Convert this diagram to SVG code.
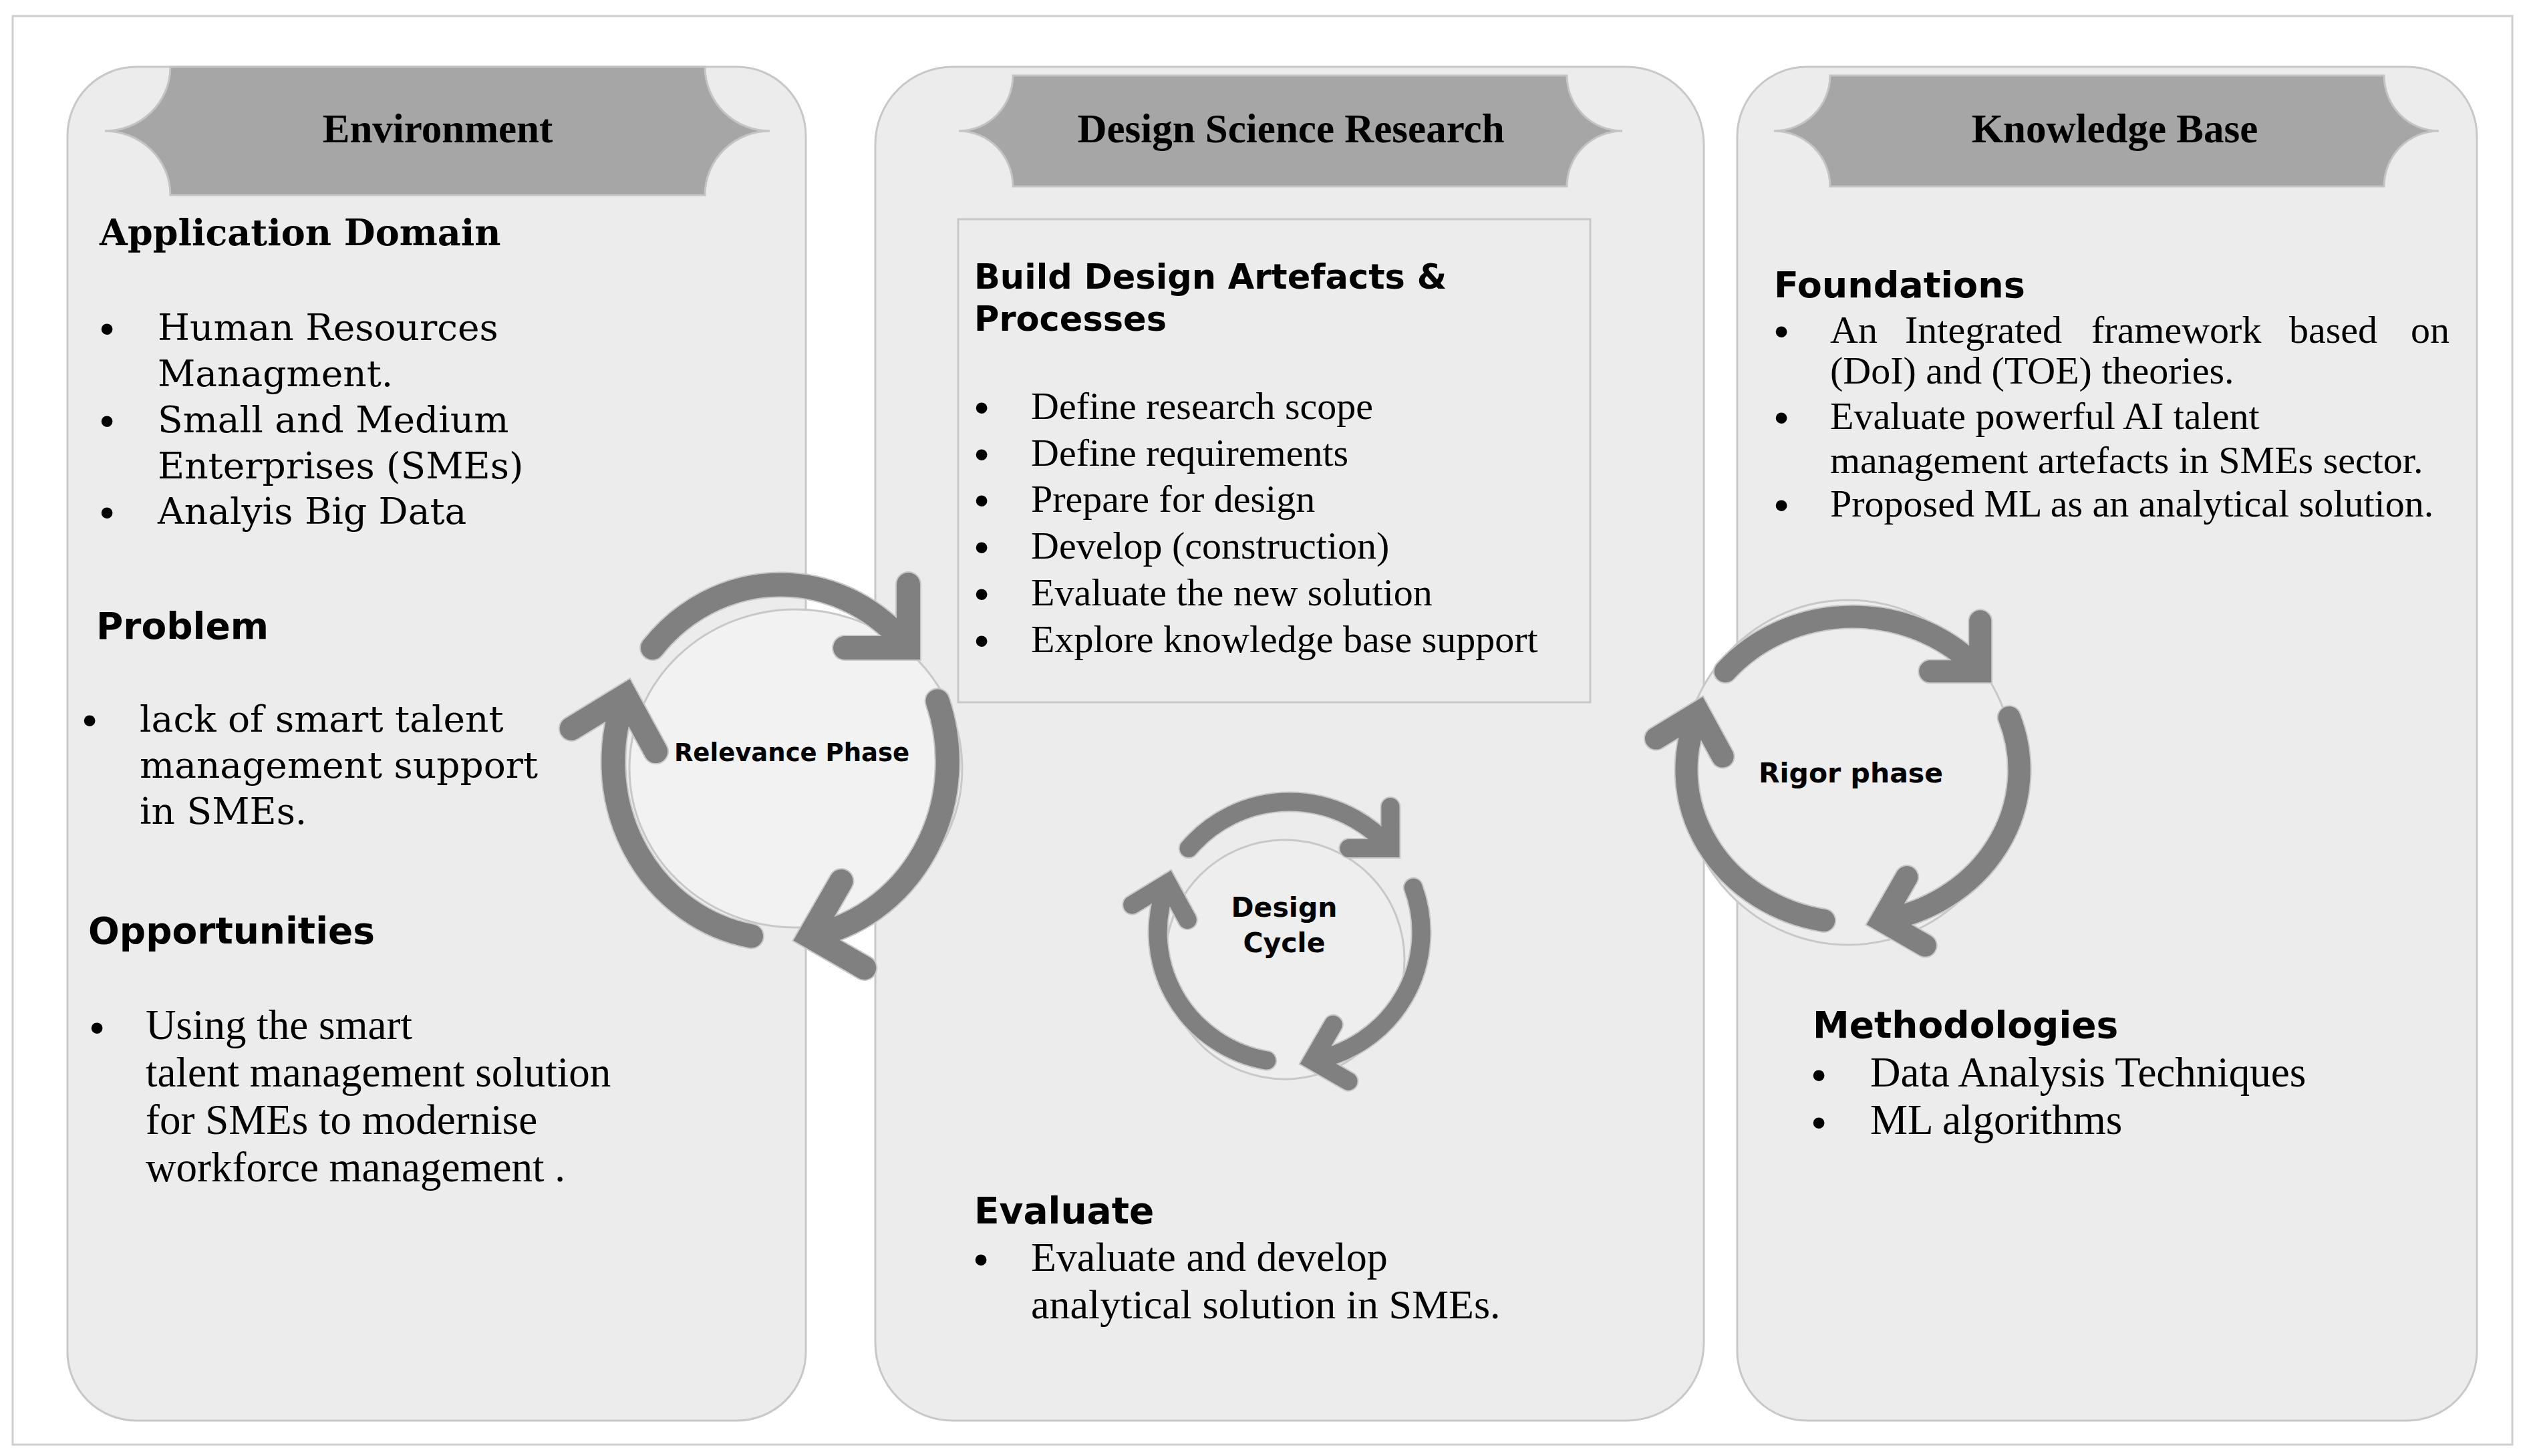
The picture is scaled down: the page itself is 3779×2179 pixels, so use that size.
<svg xmlns="http://www.w3.org/2000/svg" width="3779" height="2179" viewBox="0 0 3779 2179">
<style>
.panel{fill:#ececec;stroke:#c8c8c8;stroke-width:3}
.banner{fill:#a6a6a6;stroke:#c4c4c4;stroke-width:3}
.box{fill:#ececec;stroke:#c8c8c8;stroke-width:3}
.bt{font-family:"Liberation Serif",serif;font-weight:bold;font-size:61px;text-anchor:middle;fill:#000}
.hs{font-family:"DejaVu Serif",serif;font-weight:bold;font-size:54px;fill:#000}
.h{font-family:"DejaVu Sans",sans-serif;font-weight:bold;font-size:55px;fill:#000}
.cent{font-family:"DejaVu Serif",serif;font-size:55px;fill:#000}
.tr{font-family:"Liberation Serif",serif;font-size:58px;fill:#000}
.pal{font-family:"Liberation Serif",serif;font-size:63px;fill:#000}
.bul{font-family:"Liberation Sans",sans-serif;font-size:62px;text-anchor:middle;fill:#000}
.ring{stroke:#c8c8c8;stroke-width:3}
.lbl{font-family:"DejaVu Sans",sans-serif;font-weight:bold;text-anchor:middle;fill:#000}
.ao{fill:none;stroke:#c8c8c8;stroke-linecap:round;stroke-linejoin:miter}
.af{fill:none;stroke:#808080;stroke-linecap:round;stroke-linejoin:miter}
</style>
<rect x="0" y="0" width="3779" height="2179" fill="#ffffff"/>
<rect x="19" y="24" width="3741" height="2138" fill="#ffffff" stroke="#cfcfcf" stroke-width="3"/>

<g id="environment">
<rect class="panel" x="101" y="100" width="1105" height="2026" rx="103" ry="103"/>
<path class="banner" d="M255,100 L1055,100 A97,96 0 0 0 1152,196 A97,96 0 0 0 1055,292 L255,292 A98,96 0 0 0 157,196 A98,96 0 0 0 255,100 Z"/>
<text class="bt" x="655" y="213">Environment</text>
<text class="hs" x="149" y="367">Application Domain</text>
<text class="bul" x="160" y="513">•</text>
<text class="cent" x="236" y="509">Human Resources</text>
<text class="cent" x="236" y="578">Managment.</text>
<text class="bul" x="160" y="651">•</text>
<text class="cent" x="236" y="647">Small and Medium</text>
<text class="cent" x="236" y="716">Enterprises (SMEs)</text>
<text class="bul" x="160" y="788">•</text>
<text class="cent" x="236" y="784">Analyis Big Data</text>
<text class="h" x="144" y="956">Problem</text>
<text class="bul" x="134" y="1099">•</text>
<text class="cent" x="209" y="1095">lack of smart talent</text>
<text class="cent" x="209" y="1164">management support</text>
<text class="cent" x="209" y="1233">in SMEs.</text>
<text class="h" x="132" y="1412">Opportunities</text>
<text class="bul" x="145" y="1559">•</text>
<text class="pal" x="218" y="1555">Using the smart</text>
<text class="pal" x="218" y="1626">talent management solution</text>
<text class="pal" x="218" y="1697">for SMEs to modernise</text>
<text class="pal" x="218" y="1768">workforce management .</text>
</g>

<g id="design-science-research">
<rect class="panel" x="1310" y="100" width="1240" height="2026" rx="116" ry="116"/>
<path class="banner" d="M1516,113 L2345,113 A83,83 0 0 0 2428,196 A83,83 0 0 0 2345,279 L1516,279 A81,83 0 0 0 1435,196 A81,83 0 0 0 1516,113 Z"/>
<text class="bt" x="1932" y="213">Design Science Research</text>
<rect class="box" x="1434" y="328" width="946" height="723"/>
<text class="h" x="1458" y="432" style="font-size:51px">Build Design Artefacts &amp;</text>
<text class="h" x="1458" y="495" style="font-size:51px">Processes</text>
<text class="bul" x="1469" y="631">•</text>
<text class="tr" x="1543" y="627">Define research scope</text>
<text class="bul" x="1469" y="701">•</text>
<text class="tr" x="1543" y="697">Define requirements</text>
<text class="bul" x="1469" y="770">•</text>
<text class="tr" x="1543" y="766">Prepare for design</text>
<text class="bul" x="1469" y="840">•</text>
<text class="tr" x="1543" y="836">Develop (construction)</text>
<text class="bul" x="1469" y="910">•</text>
<text class="tr" x="1543" y="906">Evaluate the new solution</text>
<text class="bul" x="1469" y="980">•</text>
<text class="tr" x="1543" y="976">Explore knowledge base support</text>
<text class="h" x="1458" y="1831">Evaluate</text>
<text class="bul" x="1468" y="1906">•</text>
<text class="pal" x="1543" y="1902" style="font-size:62px">Evaluate and develop</text>
<text class="pal" x="1543" y="1973" style="font-size:62px">analytical solution in SMEs.</text>
</g>

<g id="knowledge-base">
<rect class="panel" x="2600" y="100" width="1107" height="2026" rx="104" ry="104"/>
<path class="banner" d="M2739,113 L3568,113 A82,83 0 0 0 3650,196 A82,83 0 0 0 3568,279 L2739,279 A84,83 0 0 0 2655,196 A84,83 0 0 0 2739,113 Z"/>
<text class="bt" x="3165" y="213">Knowledge Base</text>
<text class="h" x="2655" y="445" style="font-size:54px">Foundations</text>
<text class="bul" x="2666" y="517">•</text>
<text class="tr" y="513"><tspan x="2739">An</tspan><tspan x="2851">Integrated</tspan><tspan x="3130">framework</tspan><tspan x="3426">based</tspan><tspan x="3608">on</tspan></text>
<text class="tr" x="2739" y="574">(DoI) and (TOE) theories.</text>
<text class="bul" x="2666" y="646">•</text>
<text class="tr" x="2739" y="642">Evaluate powerful AI talent</text>
<text class="tr" x="2739" y="708">management artefacts in SMEs sector.</text>
<text class="bul" x="2666" y="777">•</text>
<text class="tr" x="2739" y="773">Proposed ML as an analytical solution.</text>
<text class="h" x="2713" y="1553">Methodologies</text>
<text class="bul" x="2722" y="1630">•</text>
<text class="pal" x="2799" y="1626">Data Analysis Techniques</text>
<text class="bul" x="2722" y="1701">•</text>
<text class="pal" x="2799" y="1697">ML algorithms</text>
</g>

<g id="relevance-phase">
<ellipse class="ring" cx="1191" cy="1150" rx="249" ry="238" fill="#f2f2f2"/>
<text class="lbl" x="1185" y="1139" style="font-size:37px">Relevance Phase</text>
</g>
<g id="design-cycle">
<circle class="ring" cx="1923" cy="1436" r="179" fill="#eeeeee"/>
<text class="lbl" x="1922" y="1372" style="font-size:41px">Design</text>
<text class="lbl" x="1922" y="1425" style="font-size:41px">Cycle</text>
</g>
<g id="rigor-phase">
<ellipse class="ring" cx="2766" cy="1156" rx="250" ry="258" fill="#ededed"/>
<text class="lbl" x="2770" y="1171" style="font-size:41px">Rigor phase</text>
</g>

<g id="connectors">
<g stroke-width="39" class="ao">
<path d="M976.5,969.6 A250,265 0 0 1 1359.5,969.6 M1359.5,874.6 L1359.5,969.6 L1264.5,969.6"/>
<path d="M1403,1049 A250,265 0 0 1 1211.5,1401 M1259,1318.7 L1211.5,1401 L1293.8,1448.5"/>
<path d="M1124.5,1401 A250,265 0 0 1 936,1041 M855.3,1090.4 L936,1041 L981.6,1124.6"/>
</g>
<g stroke-width="35" class="af">
<path d="M976.5,969.6 A250,265 0 0 1 1359.5,969.6 M1359.5,874.6 L1359.5,969.6 L1264.5,969.6"/>
<path d="M1403,1049 A250,265 0 0 1 1211.5,1401 M1259,1318.7 L1211.5,1401 L1293.8,1448.5"/>
<path d="M1124.5,1401 A250,265 0 0 1 936,1041 M855.3,1090.4 L936,1041 L981.6,1124.6"/>
</g>
<g stroke-width="31" class="ao">
<path d="M1779.1,1269.6 A197,195 0 0 1 2080.9,1269.6 M2080.9,1207.6 L2080.9,1269.6 L2018.9,1269.6"/>
<path d="M2115.2,1328.3 A197,195 0 0 1 1964.3,1587.1 M1995.3,1533.4 L1964.3,1587.1 L2018,1618.1"/>
<path d="M1895.7,1587.1 A197,195 0 0 1 1747.4,1321.9 M1694.7,1354.1 L1747.4,1321.9 L1777.2,1376.5"/>
</g>
<g stroke-width="27" class="af">
<path d="M1779.1,1269.6 A197,195 0 0 1 2080.9,1269.6 M2080.9,1207.6 L2080.9,1269.6 L2018.9,1269.6"/>
<path d="M2115.2,1328.3 A197,195 0 0 1 1964.3,1587.1 M1995.3,1533.4 L1964.3,1587.1 L2018,1618.1"/>
<path d="M1895.7,1587.1 A197,195 0 0 1 1747.4,1321.9 M1694.7,1354.1 L1747.4,1321.9 L1777.2,1376.5"/>
</g>
<g stroke-width="37" class="ao">
<path d="M2582.3,1004.8 A249,229 0 0 1 2963.7,1004.8 M2963.7,929.8 L2963.7,1004.8 L2888.7,1004.8"/>
<path d="M3007.1,1073.7 A249,229 0 0 1 2816.3,1377.6 M2853.8,1312.6 L2816.3,1377.6 L2881.3,1415.1"/>
<path d="M2729.7,1377.6 A249,229 0 0 1 2542.2,1066.1 M2478.5,1105.1 L2542.2,1066.1 L2578.2,1132.1"/>
</g>
<g stroke-width="33" class="af">
<path d="M2582.3,1004.8 A249,229 0 0 1 2963.7,1004.8 M2963.7,929.8 L2963.7,1004.8 L2888.7,1004.8"/>
<path d="M3007.1,1073.7 A249,229 0 0 1 2816.3,1377.6 M2853.8,1312.6 L2816.3,1377.6 L2881.3,1415.1"/>
<path d="M2729.7,1377.6 A249,229 0 0 1 2542.2,1066.1 M2478.5,1105.1 L2542.2,1066.1 L2578.2,1132.1"/>
</g>
</g>
</svg>
